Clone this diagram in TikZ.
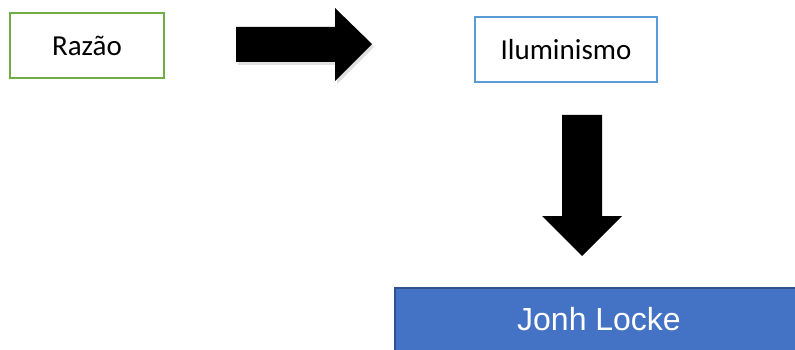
\documentclass[tikz,border=0pt]{standalone}
\usepackage{fontspec}
\setmainfont{Carlito}
\newfontfamily\arialf{Liberation Sans}
\definecolor{boxgreen}{HTML}{70AD47}
\definecolor{boxblue}{HTML}{5B9BD5}
\definecolor{lockefill}{HTML}{4472C4}
\definecolor{lockeline}{HTML}{2F528F}
\begin{document}
\begin{tikzpicture}[x=1pt,y=-1pt,
  plainbox/.style={draw, line width=2pt, fill=white, inner sep=0pt, font=\fontsize{29}{34}\selectfont},
  blockarrow/.style={fill=black}]
\useasboundingbox (0,0) rectangle (795,350);
\clip (0,0) rectangle (795,350);
\node[plainbox, draw=boxgreen, minimum width=154pt, minimum height=65pt] (razao) at (87,45.5) {Razão};
\node[plainbox, draw=boxblue, minimum width=182pt, minimum height=65pt] (ilum) at (566,49.5) {Iluminismo};
\fill[lockefill, draw=lockeline, line width=1.5pt] (395,288) rectangle (800,356);
\node[text=white, font=\arialf\fontsize{32}{38}\selectfont, inner sep=0pt] (locke) at (599,319) {Jonh Locke};
% right block arrow (with soft shadow)
\fill[black, opacity=0.12] (238,30) -- (337,30) -- (337,11) -- (374,47) -- (337,84) -- (337,65) -- (238,65) -- cycle;
\fill[blockarrow] (236,27) -- (335,27) -- (335,8) -- (372,44) -- (335,81) -- (335,62) -- (236,62) -- cycle;
% down block arrow
\fill[blockarrow] (562,115) -- (602,115) -- (602,216) -- (622,216) -- (582,256) -- (542,216) -- (562,216) -- cycle;
\end{tikzpicture}
\end{document}
